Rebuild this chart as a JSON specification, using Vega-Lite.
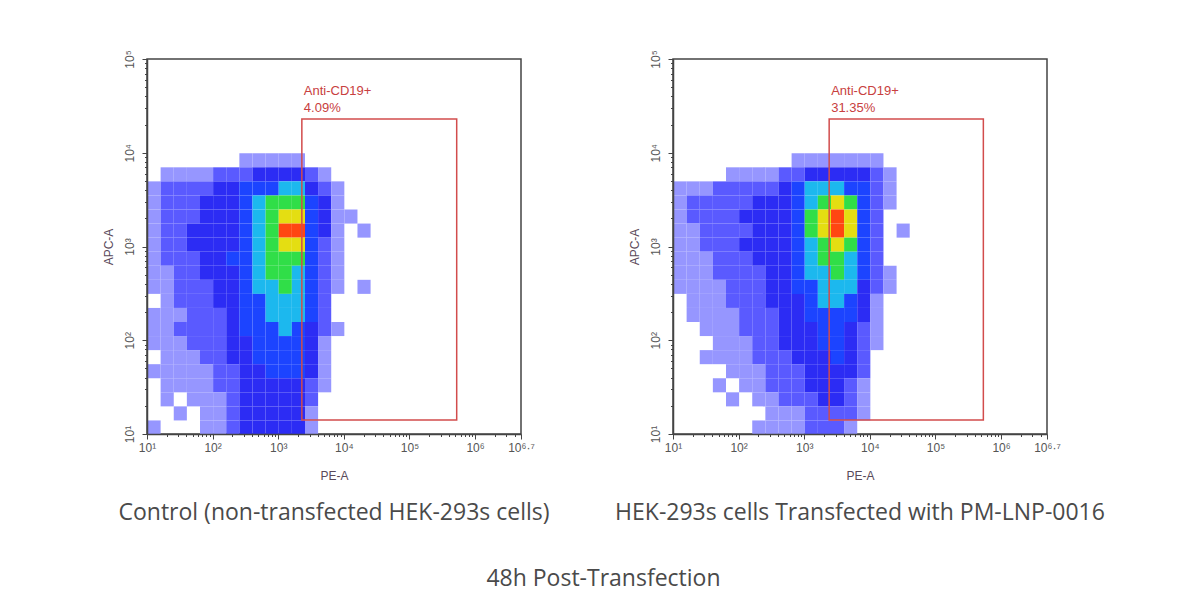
{
  "$schema": "https://vega.github.io/schema/vega-lite/v6.json",
  "background": "white",
  "padding": {"left": 101, "top": 49, "right": 10, "bottom": 10},
  "datasets": {
    "control": [
      {"pe":2.4,"apc":3.85,"n":1},{"pe":2.6,"apc":3.85,"n":1},{"pe":2.8,"apc":3.85,"n":1},{"pe":3,"apc":3.85,"n":1},{"pe":3.2,"apc":3.85,"n":1},
      {"pe":1.2,"apc":3.7,"n":1},{"pe":1.4,"apc":3.7,"n":1},{"pe":1.6,"apc":3.7,"n":1},{"pe":1.8,"apc":3.7,"n":1},{"pe":2,"apc":3.7,"n":2},{"pe":2.2,"apc":3.7,"n":2},{"pe":2.4,"apc":3.7,"n":2},{"pe":2.6,"apc":3.7,"n":3},{"pe":2.8,"apc":3.7,"n":3},{"pe":3,"apc":3.7,"n":3},{"pe":3.2,"apc":3.7,"n":3},{"pe":3.4,"apc":3.7,"n":2},{"pe":3.6,"apc":3.7,"n":1},
      {"pe":1,"apc":3.55,"n":1},{"pe":1.2,"apc":3.55,"n":2},{"pe":1.4,"apc":3.55,"n":2},{"pe":1.6,"apc":3.55,"n":2},{"pe":1.8,"apc":3.55,"n":2},{"pe":2,"apc":3.55,"n":3},{"pe":2.2,"apc":3.55,"n":3},{"pe":2.4,"apc":3.55,"n":4},{"pe":2.6,"apc":3.55,"n":4},{"pe":2.8,"apc":3.55,"n":4},{"pe":3,"apc":3.55,"n":5},{"pe":3.2,"apc":3.55,"n":5},{"pe":3.4,"apc":3.55,"n":3},{"pe":3.6,"apc":3.55,"n":2},{"pe":3.8,"apc":3.55,"n":1},
      {"pe":1,"apc":3.4,"n":1},{"pe":1.2,"apc":3.4,"n":2},{"pe":1.4,"apc":3.4,"n":2},{"pe":1.6,"apc":3.4,"n":2},{"pe":1.8,"apc":3.4,"n":3},{"pe":2,"apc":3.4,"n":3},{"pe":2.2,"apc":3.4,"n":3},{"pe":2.4,"apc":3.4,"n":4},{"pe":2.6,"apc":3.4,"n":5},{"pe":2.8,"apc":3.4,"n":6},{"pe":3,"apc":3.4,"n":6},{"pe":3.2,"apc":3.4,"n":6},{"pe":3.4,"apc":3.4,"n":4},{"pe":3.6,"apc":3.4,"n":3},{"pe":3.8,"apc":3.4,"n":1},
      {"pe":1,"apc":3.25,"n":1},{"pe":1.2,"apc":3.25,"n":2},{"pe":1.4,"apc":3.25,"n":2},{"pe":1.6,"apc":3.25,"n":2},{"pe":1.8,"apc":3.25,"n":3},{"pe":2,"apc":3.25,"n":3},{"pe":2.2,"apc":3.25,"n":3},{"pe":2.4,"apc":3.25,"n":4},{"pe":2.6,"apc":3.25,"n":5},{"pe":2.8,"apc":3.25,"n":6},{"pe":3,"apc":3.25,"n":7},{"pe":3.2,"apc":3.25,"n":7},{"pe":3.4,"apc":3.25,"n":4},{"pe":3.6,"apc":3.25,"n":3},{"pe":3.8,"apc":3.25,"n":1},{"pe":4,"apc":3.25,"n":1},
      {"pe":1,"apc":3.1,"n":1},{"pe":1.2,"apc":3.1,"n":2},{"pe":1.4,"apc":3.1,"n":2},{"pe":1.6,"apc":3.1,"n":3},{"pe":1.8,"apc":3.1,"n":3},{"pe":2,"apc":3.1,"n":3},{"pe":2.2,"apc":3.1,"n":3},{"pe":2.4,"apc":3.1,"n":4},{"pe":2.6,"apc":3.1,"n":5},{"pe":2.8,"apc":3.1,"n":6},{"pe":3,"apc":3.1,"n":8},{"pe":3.2,"apc":3.1,"n":8},{"pe":3.4,"apc":3.1,"n":4},{"pe":3.6,"apc":3.1,"n":3},{"pe":3.8,"apc":3.1,"n":1},{"pe":4.2,"apc":3.1,"n":1},
      {"pe":1,"apc":2.95,"n":1},{"pe":1.2,"apc":2.95,"n":2},{"pe":1.4,"apc":2.95,"n":2},{"pe":1.6,"apc":2.95,"n":3},{"pe":1.8,"apc":2.95,"n":3},{"pe":2,"apc":2.95,"n":3},{"pe":2.2,"apc":2.95,"n":3},{"pe":2.4,"apc":2.95,"n":4},{"pe":2.6,"apc":2.95,"n":5},{"pe":2.8,"apc":2.95,"n":6},{"pe":3,"apc":2.95,"n":7},{"pe":3.2,"apc":2.95,"n":7},{"pe":3.4,"apc":2.95,"n":4},{"pe":3.6,"apc":2.95,"n":2},{"pe":3.8,"apc":2.95,"n":1},
      {"pe":1,"apc":2.8,"n":1},{"pe":1.2,"apc":2.8,"n":2},{"pe":1.4,"apc":2.8,"n":2},{"pe":1.6,"apc":2.8,"n":2},{"pe":1.8,"apc":2.8,"n":3},{"pe":2,"apc":2.8,"n":3},{"pe":2.2,"apc":2.8,"n":4},{"pe":2.4,"apc":2.8,"n":4},{"pe":2.6,"apc":2.8,"n":5},{"pe":2.8,"apc":2.8,"n":6},{"pe":3,"apc":2.8,"n":6},{"pe":3.2,"apc":2.8,"n":6},{"pe":3.4,"apc":2.8,"n":4},{"pe":3.6,"apc":2.8,"n":2},{"pe":3.8,"apc":2.8,"n":1},
      {"pe":1,"apc":2.65,"n":1},{"pe":1.2,"apc":2.65,"n":1},{"pe":1.4,"apc":2.65,"n":2},{"pe":1.6,"apc":2.65,"n":2},{"pe":1.8,"apc":2.65,"n":3},{"pe":2,"apc":2.65,"n":3},{"pe":2.2,"apc":2.65,"n":3},{"pe":2.4,"apc":2.65,"n":4},{"pe":2.6,"apc":2.65,"n":5},{"pe":2.8,"apc":2.65,"n":6},{"pe":3,"apc":2.65,"n":6},{"pe":3.2,"apc":2.65,"n":5},{"pe":3.4,"apc":2.65,"n":4},{"pe":3.6,"apc":2.65,"n":2},{"pe":3.8,"apc":2.65,"n":1},
      {"pe":1,"apc":2.5,"n":1},{"pe":1.2,"apc":2.5,"n":1},{"pe":1.4,"apc":2.5,"n":2},{"pe":1.6,"apc":2.5,"n":2},{"pe":1.8,"apc":2.5,"n":2},{"pe":2,"apc":2.5,"n":3},{"pe":2.2,"apc":2.5,"n":3},{"pe":2.4,"apc":2.5,"n":4},{"pe":2.6,"apc":2.5,"n":5},{"pe":2.8,"apc":2.5,"n":5},{"pe":3,"apc":2.5,"n":6},{"pe":3.2,"apc":2.5,"n":5},{"pe":3.4,"apc":2.5,"n":4},{"pe":3.6,"apc":2.5,"n":2},{"pe":3.8,"apc":2.5,"n":1},{"pe":4.2,"apc":2.5,"n":1},
      {"pe":1.2,"apc":2.35,"n":1},{"pe":1.4,"apc":2.35,"n":2},{"pe":1.6,"apc":2.35,"n":2},{"pe":1.8,"apc":2.35,"n":2},{"pe":2,"apc":2.35,"n":3},{"pe":2.2,"apc":2.35,"n":3},{"pe":2.4,"apc":2.35,"n":4},{"pe":2.6,"apc":2.35,"n":4},{"pe":2.8,"apc":2.35,"n":5},{"pe":3,"apc":2.35,"n":5},{"pe":3.2,"apc":2.35,"n":5},{"pe":3.4,"apc":2.35,"n":4},{"pe":3.6,"apc":2.35,"n":2},
      {"pe":1,"apc":2.2,"n":1},{"pe":1.2,"apc":2.2,"n":1},{"pe":1.4,"apc":2.2,"n":1},{"pe":1.6,"apc":2.2,"n":2},{"pe":1.8,"apc":2.2,"n":2},{"pe":2,"apc":2.2,"n":2},{"pe":2.2,"apc":2.2,"n":3},{"pe":2.4,"apc":2.2,"n":4},{"pe":2.6,"apc":2.2,"n":4},{"pe":2.8,"apc":2.2,"n":5},{"pe":3,"apc":2.2,"n":5},{"pe":3.2,"apc":2.2,"n":5},{"pe":3.4,"apc":2.2,"n":4},{"pe":3.6,"apc":2.2,"n":2},
      {"pe":1,"apc":2.05,"n":1},{"pe":1.2,"apc":2.05,"n":1},{"pe":1.4,"apc":2.05,"n":2},{"pe":1.6,"apc":2.05,"n":2},{"pe":1.8,"apc":2.05,"n":2},{"pe":2,"apc":2.05,"n":2},{"pe":2.2,"apc":2.05,"n":3},{"pe":2.4,"apc":2.05,"n":4},{"pe":2.6,"apc":2.05,"n":4},{"pe":2.8,"apc":2.05,"n":4},{"pe":3,"apc":2.05,"n":5},{"pe":3.2,"apc":2.05,"n":4},{"pe":3.4,"apc":2.05,"n":3},{"pe":3.6,"apc":2.05,"n":2},{"pe":3.8,"apc":2.05,"n":1},
      {"pe":1,"apc":1.9,"n":1},{"pe":1.2,"apc":1.9,"n":1},{"pe":1.4,"apc":1.9,"n":1},{"pe":1.6,"apc":1.9,"n":2},{"pe":1.8,"apc":1.9,"n":2},{"pe":2,"apc":1.9,"n":2},{"pe":2.2,"apc":1.9,"n":3},{"pe":2.4,"apc":1.9,"n":3},{"pe":2.6,"apc":1.9,"n":4},{"pe":2.8,"apc":1.9,"n":4},{"pe":3,"apc":1.9,"n":4},{"pe":3.2,"apc":1.9,"n":4},{"pe":3.4,"apc":1.9,"n":3},{"pe":3.6,"apc":1.9,"n":1},
      {"pe":1.2,"apc":1.75,"n":1},{"pe":1.4,"apc":1.75,"n":1},{"pe":1.6,"apc":1.75,"n":1},{"pe":1.8,"apc":1.75,"n":2},{"pe":2,"apc":1.75,"n":2},{"pe":2.2,"apc":1.75,"n":3},{"pe":2.4,"apc":1.75,"n":3},{"pe":2.6,"apc":1.75,"n":4},{"pe":2.8,"apc":1.75,"n":4},{"pe":3,"apc":1.75,"n":4},{"pe":3.2,"apc":1.75,"n":4},{"pe":3.4,"apc":1.75,"n":3},{"pe":3.6,"apc":1.75,"n":1},
      {"pe":1,"apc":1.6,"n":1},{"pe":1.2,"apc":1.6,"n":1},{"pe":1.4,"apc":1.6,"n":1},{"pe":1.6,"apc":1.6,"n":1},{"pe":1.8,"apc":1.6,"n":1},{"pe":2,"apc":1.6,"n":2},{"pe":2.2,"apc":1.6,"n":2},{"pe":2.4,"apc":1.6,"n":3},{"pe":2.6,"apc":1.6,"n":3},{"pe":2.8,"apc":1.6,"n":4},{"pe":3,"apc":1.6,"n":4},{"pe":3.2,"apc":1.6,"n":4},{"pe":3.4,"apc":1.6,"n":3},{"pe":3.6,"apc":1.6,"n":1},
      {"pe":1.2,"apc":1.45,"n":1},{"pe":1.4,"apc":1.45,"n":1},{"pe":1.6,"apc":1.45,"n":1},{"pe":1.8,"apc":1.45,"n":1},{"pe":2,"apc":1.45,"n":2},{"pe":2.2,"apc":1.45,"n":2},{"pe":2.4,"apc":1.45,"n":3},{"pe":2.6,"apc":1.45,"n":3},{"pe":2.8,"apc":1.45,"n":3},{"pe":3,"apc":1.45,"n":3},{"pe":3.2,"apc":1.45,"n":3},{"pe":3.4,"apc":1.45,"n":2},{"pe":3.6,"apc":1.45,"n":1},
      {"pe":1.2,"apc":1.3,"n":1},{"pe":1.6,"apc":1.3,"n":1},{"pe":1.8,"apc":1.3,"n":1},{"pe":2,"apc":1.3,"n":1},{"pe":2.2,"apc":1.3,"n":2},{"pe":2.4,"apc":1.3,"n":3},{"pe":2.6,"apc":1.3,"n":3},{"pe":2.8,"apc":1.3,"n":3},{"pe":3,"apc":1.3,"n":3},{"pe":3.2,"apc":1.3,"n":3},{"pe":3.4,"apc":1.3,"n":2},
      {"pe":1.4,"apc":1.15,"n":1},{"pe":1.8,"apc":1.15,"n":1},{"pe":2,"apc":1.15,"n":1},{"pe":2.2,"apc":1.15,"n":2},{"pe":2.4,"apc":1.15,"n":3},{"pe":2.6,"apc":1.15,"n":3},{"pe":2.8,"apc":1.15,"n":3},{"pe":3,"apc":1.15,"n":3},{"pe":3.2,"apc":1.15,"n":3},{"pe":3.4,"apc":1.15,"n":1},
      {"pe":1,"apc":1,"n":1},{"pe":1.8,"apc":1,"n":1},{"pe":2,"apc":1,"n":1},{"pe":2.2,"apc":1,"n":2},{"pe":2.4,"apc":1,"n":3},{"pe":2.6,"apc":1,"n":3},{"pe":2.8,"apc":1,"n":3},{"pe":3,"apc":1,"n":3},{"pe":3.2,"apc":1,"n":3},{"pe":3.4,"apc":1,"n":1}
    ],
    "transfected": [
      {"pe":2.8,"apc":3.85,"n":1},{"pe":3,"apc":3.85,"n":1},{"pe":3.2,"apc":3.85,"n":1},{"pe":3.4,"apc":3.85,"n":1},{"pe":3.6,"apc":3.85,"n":1},{"pe":3.8,"apc":3.85,"n":1},{"pe":4,"apc":3.85,"n":1},
      {"pe":1.8,"apc":3.7,"n":1},{"pe":2,"apc":3.7,"n":1},{"pe":2.2,"apc":3.7,"n":1},{"pe":2.4,"apc":3.7,"n":1},{"pe":2.6,"apc":3.7,"n":2},{"pe":2.8,"apc":3.7,"n":2},{"pe":3,"apc":3.7,"n":3},{"pe":3.2,"apc":3.7,"n":3},{"pe":3.4,"apc":3.7,"n":3},{"pe":3.6,"apc":3.7,"n":3},{"pe":3.8,"apc":3.7,"n":3},{"pe":4,"apc":3.7,"n":2},{"pe":4.2,"apc":3.7,"n":1},
      {"pe":1,"apc":3.55,"n":1},{"pe":1.2,"apc":3.55,"n":1},{"pe":1.4,"apc":3.55,"n":1},{"pe":1.6,"apc":3.55,"n":2},{"pe":1.8,"apc":3.55,"n":2},{"pe":2,"apc":3.55,"n":2},{"pe":2.2,"apc":3.55,"n":2},{"pe":2.4,"apc":3.55,"n":2},{"pe":2.6,"apc":3.55,"n":3},{"pe":2.8,"apc":3.55,"n":4},{"pe":3,"apc":3.55,"n":5},{"pe":3.2,"apc":3.55,"n":5},{"pe":3.4,"apc":3.55,"n":5},{"pe":3.6,"apc":3.55,"n":4},{"pe":3.8,"apc":3.55,"n":4},{"pe":4,"apc":3.55,"n":2},{"pe":4.2,"apc":3.55,"n":1},
      {"pe":1,"apc":3.4,"n":1},{"pe":1.2,"apc":3.4,"n":2},{"pe":1.4,"apc":3.4,"n":2},{"pe":1.6,"apc":3.4,"n":2},{"pe":1.8,"apc":3.4,"n":2},{"pe":2,"apc":3.4,"n":2},{"pe":2.2,"apc":3.4,"n":3},{"pe":2.4,"apc":3.4,"n":3},{"pe":2.6,"apc":3.4,"n":3},{"pe":2.8,"apc":3.4,"n":4},{"pe":3,"apc":3.4,"n":5},{"pe":3.2,"apc":3.4,"n":6},{"pe":3.4,"apc":3.4,"n":7},{"pe":3.6,"apc":3.4,"n":6},{"pe":3.8,"apc":3.4,"n":4},{"pe":4,"apc":3.4,"n":2},{"pe":4.2,"apc":3.4,"n":1},
      {"pe":1,"apc":3.25,"n":1},{"pe":1.2,"apc":3.25,"n":2},{"pe":1.4,"apc":3.25,"n":2},{"pe":1.6,"apc":3.25,"n":2},{"pe":1.8,"apc":3.25,"n":2},{"pe":2,"apc":3.25,"n":3},{"pe":2.2,"apc":3.25,"n":3},{"pe":2.4,"apc":3.25,"n":3},{"pe":2.6,"apc":3.25,"n":3},{"pe":2.8,"apc":3.25,"n":4},{"pe":3,"apc":3.25,"n":6},{"pe":3.2,"apc":3.25,"n":7},{"pe":3.4,"apc":3.25,"n":8},{"pe":3.6,"apc":3.25,"n":7},{"pe":3.8,"apc":3.25,"n":4},{"pe":4,"apc":3.25,"n":2},
      {"pe":1,"apc":3.1,"n":1},{"pe":1.2,"apc":3.1,"n":1},{"pe":1.4,"apc":3.1,"n":2},{"pe":1.6,"apc":3.1,"n":2},{"pe":1.8,"apc":3.1,"n":2},{"pe":2,"apc":3.1,"n":2},{"pe":2.2,"apc":3.1,"n":3},{"pe":2.4,"apc":3.1,"n":3},{"pe":2.6,"apc":3.1,"n":3},{"pe":2.8,"apc":3.1,"n":4},{"pe":3,"apc":3.1,"n":6},{"pe":3.2,"apc":3.1,"n":7},{"pe":3.4,"apc":3.1,"n":8},{"pe":3.6,"apc":3.1,"n":7},{"pe":3.8,"apc":3.1,"n":4},{"pe":4,"apc":3.1,"n":2},{"pe":4.4,"apc":3.1,"n":1},
      {"pe":1,"apc":2.95,"n":1},{"pe":1.2,"apc":2.95,"n":1},{"pe":1.4,"apc":2.95,"n":2},{"pe":1.6,"apc":2.95,"n":2},{"pe":1.8,"apc":2.95,"n":2},{"pe":2,"apc":2.95,"n":3},{"pe":2.2,"apc":2.95,"n":3},{"pe":2.4,"apc":2.95,"n":3},{"pe":2.6,"apc":2.95,"n":3},{"pe":2.8,"apc":2.95,"n":4},{"pe":3,"apc":2.95,"n":5},{"pe":3.2,"apc":2.95,"n":6},{"pe":3.4,"apc":2.95,"n":7},{"pe":3.6,"apc":2.95,"n":6},{"pe":3.8,"apc":2.95,"n":4},{"pe":4,"apc":2.95,"n":2},
      {"pe":1,"apc":2.8,"n":1},{"pe":1.2,"apc":2.8,"n":1},{"pe":1.4,"apc":2.8,"n":1},{"pe":1.6,"apc":2.8,"n":2},{"pe":1.8,"apc":2.8,"n":2},{"pe":2,"apc":2.8,"n":2},{"pe":2.2,"apc":2.8,"n":3},{"pe":2.4,"apc":2.8,"n":3},{"pe":2.6,"apc":2.8,"n":3},{"pe":2.8,"apc":2.8,"n":4},{"pe":3,"apc":2.8,"n":5},{"pe":3.2,"apc":2.8,"n":6},{"pe":3.4,"apc":2.8,"n":6},{"pe":3.6,"apc":2.8,"n":5},{"pe":3.8,"apc":2.8,"n":4},{"pe":4,"apc":2.8,"n":2},
      {"pe":1,"apc":2.65,"n":1},{"pe":1.2,"apc":2.65,"n":1},{"pe":1.4,"apc":2.65,"n":1},{"pe":1.6,"apc":2.65,"n":2},{"pe":1.8,"apc":2.65,"n":2},{"pe":2,"apc":2.65,"n":2},{"pe":2.2,"apc":2.65,"n":2},{"pe":2.4,"apc":2.65,"n":3},{"pe":2.6,"apc":2.65,"n":3},{"pe":2.8,"apc":2.65,"n":4},{"pe":3,"apc":2.65,"n":5},{"pe":3.2,"apc":2.65,"n":5},{"pe":3.4,"apc":2.65,"n":6},{"pe":3.6,"apc":2.65,"n":5},{"pe":3.8,"apc":2.65,"n":4},{"pe":4,"apc":2.65,"n":2},{"pe":4.2,"apc":2.65,"n":1},
      {"pe":1,"apc":2.5,"n":1},{"pe":1.2,"apc":2.5,"n":1},{"pe":1.4,"apc":2.5,"n":1},{"pe":1.6,"apc":2.5,"n":1},{"pe":1.8,"apc":2.5,"n":2},{"pe":2,"apc":2.5,"n":2},{"pe":2.2,"apc":2.5,"n":2},{"pe":2.4,"apc":2.5,"n":3},{"pe":2.6,"apc":2.5,"n":3},{"pe":2.8,"apc":2.5,"n":4},{"pe":3,"apc":2.5,"n":4},{"pe":3.2,"apc":2.5,"n":5},{"pe":3.4,"apc":2.5,"n":5},{"pe":3.6,"apc":2.5,"n":5},{"pe":3.8,"apc":2.5,"n":3},{"pe":4,"apc":2.5,"n":2},{"pe":4.2,"apc":2.5,"n":1},
      {"pe":1.2,"apc":2.35,"n":1},{"pe":1.4,"apc":2.35,"n":1},{"pe":1.6,"apc":2.35,"n":1},{"pe":1.8,"apc":2.35,"n":2},{"pe":2,"apc":2.35,"n":2},{"pe":2.2,"apc":2.35,"n":2},{"pe":2.4,"apc":2.35,"n":3},{"pe":2.6,"apc":2.35,"n":3},{"pe":2.8,"apc":2.35,"n":3},{"pe":3,"apc":2.35,"n":4},{"pe":3.2,"apc":2.35,"n":5},{"pe":3.4,"apc":2.35,"n":5},{"pe":3.6,"apc":2.35,"n":4},{"pe":3.8,"apc":2.35,"n":3},{"pe":4,"apc":2.35,"n":1},
      {"pe":1.2,"apc":2.2,"n":1},{"pe":1.4,"apc":2.2,"n":1},{"pe":1.6,"apc":2.2,"n":1},{"pe":1.8,"apc":2.2,"n":1},{"pe":2,"apc":2.2,"n":2},{"pe":2.2,"apc":2.2,"n":2},{"pe":2.4,"apc":2.2,"n":2},{"pe":2.6,"apc":2.2,"n":3},{"pe":2.8,"apc":2.2,"n":3},{"pe":3,"apc":2.2,"n":4},{"pe":3.2,"apc":2.2,"n":4},{"pe":3.4,"apc":2.2,"n":4},{"pe":3.6,"apc":2.2,"n":4},{"pe":3.8,"apc":2.2,"n":3},{"pe":4,"apc":2.2,"n":1},
      {"pe":1.4,"apc":2.05,"n":1},{"pe":1.6,"apc":2.05,"n":1},{"pe":1.8,"apc":2.05,"n":1},{"pe":2,"apc":2.05,"n":2},{"pe":2.2,"apc":2.05,"n":2},{"pe":2.4,"apc":2.05,"n":2},{"pe":2.6,"apc":2.05,"n":3},{"pe":2.8,"apc":2.05,"n":3},{"pe":3,"apc":2.05,"n":3},{"pe":3.2,"apc":2.05,"n":4},{"pe":3.4,"apc":2.05,"n":4},{"pe":3.6,"apc":2.05,"n":3},{"pe":3.8,"apc":2.05,"n":2},{"pe":4,"apc":2.05,"n":1},
      {"pe":1.6,"apc":1.9,"n":1},{"pe":1.8,"apc":1.9,"n":1},{"pe":2,"apc":1.9,"n":1},{"pe":2.2,"apc":1.9,"n":2},{"pe":2.4,"apc":1.9,"n":2},{"pe":2.6,"apc":1.9,"n":3},{"pe":2.8,"apc":1.9,"n":3},{"pe":3,"apc":1.9,"n":3},{"pe":3.2,"apc":1.9,"n":4},{"pe":3.4,"apc":1.9,"n":4},{"pe":3.6,"apc":1.9,"n":3},{"pe":3.8,"apc":1.9,"n":2},{"pe":4,"apc":1.9,"n":1},
      {"pe":1.4,"apc":1.75,"n":1},{"pe":1.6,"apc":1.75,"n":1},{"pe":1.8,"apc":1.75,"n":1},{"pe":2,"apc":1.75,"n":1},{"pe":2.2,"apc":1.75,"n":2},{"pe":2.4,"apc":1.75,"n":2},{"pe":2.6,"apc":1.75,"n":2},{"pe":2.8,"apc":1.75,"n":3},{"pe":3,"apc":1.75,"n":3},{"pe":3.2,"apc":1.75,"n":3},{"pe":3.4,"apc":1.75,"n":4},{"pe":3.6,"apc":1.75,"n":3},{"pe":3.8,"apc":1.75,"n":2},
      {"pe":1.8,"apc":1.6,"n":1},{"pe":2,"apc":1.6,"n":1},{"pe":2.2,"apc":1.6,"n":1},{"pe":2.4,"apc":1.6,"n":2},{"pe":2.6,"apc":1.6,"n":2},{"pe":2.8,"apc":1.6,"n":2},{"pe":3,"apc":1.6,"n":3},{"pe":3.2,"apc":1.6,"n":3},{"pe":3.4,"apc":1.6,"n":3},{"pe":3.6,"apc":1.6,"n":3},{"pe":3.8,"apc":1.6,"n":2},
      {"pe":1.6,"apc":1.45,"n":1},{"pe":2,"apc":1.45,"n":1},{"pe":2.2,"apc":1.45,"n":1},{"pe":2.4,"apc":1.45,"n":2},{"pe":2.6,"apc":1.45,"n":2},{"pe":2.8,"apc":1.45,"n":2},{"pe":3,"apc":1.45,"n":3},{"pe":3.2,"apc":1.45,"n":3},{"pe":3.4,"apc":1.45,"n":3},{"pe":3.6,"apc":1.45,"n":2},{"pe":3.8,"apc":1.45,"n":1},
      {"pe":1.8,"apc":1.3,"n":1},{"pe":2.2,"apc":1.3,"n":1},{"pe":2.4,"apc":1.3,"n":1},{"pe":2.6,"apc":1.3,"n":2},{"pe":2.8,"apc":1.3,"n":2},{"pe":3,"apc":1.3,"n":2},{"pe":3.2,"apc":1.3,"n":3},{"pe":3.4,"apc":1.3,"n":3},{"pe":3.6,"apc":1.3,"n":2},{"pe":3.8,"apc":1.3,"n":1},
      {"pe":2.4,"apc":1.15,"n":1},{"pe":2.6,"apc":1.15,"n":1},{"pe":2.8,"apc":1.15,"n":1},{"pe":3,"apc":1.15,"n":2},{"pe":3.2,"apc":1.15,"n":2},{"pe":3.4,"apc":1.15,"n":2},{"pe":3.6,"apc":1.15,"n":2},{"pe":3.8,"apc":1.15,"n":1},
      {"pe":2.2,"apc":1,"n":1},{"pe":2.4,"apc":1,"n":1},{"pe":2.6,"apc":1,"n":1},{"pe":2.8,"apc":1,"n":1},{"pe":3,"apc":1,"n":2},{"pe":3.2,"apc":1,"n":2},{"pe":3.4,"apc":1,"n":2},{"pe":3.6,"apc":1,"n":1}
    ],
    "gates": [
      {"panel":"control","pe_lo":3.36,"pe_hi":5.72,"apc_lo":1.15,"apc_hi":4.36,"label":"Anti-CD19+\n4.09%"},
      {"panel":"transfected","pe_lo":3.38,"pe_hi":5.73,"apc_lo":1.15,"apc_hi":4.36,"label":"Anti-CD19+\n31.35%"}
    ]
  },
  "hconcat": [
    {
      "width": 374,
      "height": 375,
      "title": {"text": "Control (non-transfected HEK-293s cells)", "orient": "bottom", "frame": "group", "offset": 21},
      "layer": [
        {
          "data": {"name": "control"},
          "mark": {"type": "rect", "binSpacing": 0},
          "encoding": {
            "x": {"field": "pe", "type": "quantitative", "bin": {"binned": true, "step": 0.2}, "title": "PE-A",
                  "scale": {"domain": [1, 6.7], "nice": false, "zero": false},
                  "axis": {
                    "values": [1, 1.301, 1.477, 1.602, 1.699, 1.778, 1.845, 1.903, 1.954,
                               2, 2.301, 2.477, 2.602, 2.699, 2.778, 2.845, 2.903, 2.954,
                               3, 3.301, 3.477, 3.602, 3.699, 3.778, 3.845, 3.903, 3.954,
                               4, 4.301, 4.477, 4.602, 4.699, 4.778, 4.845, 4.903, 4.954,
                               5, 5.301, 5.477, 5.602, 5.699, 5.778, 5.845, 5.903, 5.954,
                               6, 6.301, 6.477, 6.602, 6.7],
                    "tickCount": 200,
                    "labelExpr": "datum.value == 6.7 ? '10⁶·⁷' : (datum.value == floor(datum.value) ? '10' + ['⁰','¹','²','³','⁴','⁵','⁶'][datum.value] : '')",
                    "tickSize": {"condition": {"test": "datum.value == floor(datum.value) || datum.value == 6.7", "value": 5}, "value": 2.5},
                    "labelOverlap": false, "labelBound": false, "labelFlush": false
                  }},
            "y": {"field": "apc", "type": "quantitative", "bin": {"binned": true, "step": 0.15}, "title": "APC-A",
                  "scale": {"domain": [1, 5], "nice": false, "zero": false},
                  "axis": {
                    "values": [1, 1.301, 1.477, 1.602, 1.699, 1.778, 1.845, 1.903, 1.954,
                               2, 2.301, 2.477, 2.602, 2.699, 2.778, 2.845, 2.903, 2.954,
                               3, 3.301, 3.477, 3.602, 3.699, 3.778, 3.845, 3.903, 3.954,
                               4, 4.301, 4.477, 4.602, 4.699, 4.778, 4.845, 4.903, 4.954, 5],
                    "tickCount": 200,
                    "labelExpr": "datum.value == floor(datum.value) ? '10' + ['⁰','¹','²','³','⁴','⁵'][datum.value] : ''",
                    "tickSize": {"condition": {"test": "datum.value == floor(datum.value)", "value": 5}, "value": 2.5},
                    "labelAngle": -90,
                    "labelOverlap": false, "labelBound": false, "labelFlush": false
                  }},
            "color": {"field": "n", "type": "ordinal", "legend": null,
                      "scale": {"domain": [1, 2, 3, 4, 5, 6, 7, 8],
                                "range": ["#9696ff", "#5a5aff", "#2c2cf4", "#1c44ff", "#1cb8ee", "#30de48", "#e4de12", "#ff4612"]}}
          }
        },
        {
          "data": {"name": "gates"},
          "transform": [{"filter": "datum.panel == 'control'"}],
          "mark": {"type": "rect", "filled": false, "stroke": "#d24c4c", "strokeWidth": 1.5},
          "encoding": {
            "x": {"field": "pe_lo", "type": "quantitative", "title": "PE-A"},
            "x2": {"field": "pe_hi"},
            "y": {"field": "apc_lo", "type": "quantitative", "title": "APC-A"},
            "y2": {"field": "apc_hi"}
          }
        },
        {
          "data": {"name": "gates"},
          "transform": [{"filter": "datum.panel == 'control'"}],
          "mark": {"type": "text", "align": "left", "baseline": "top", "dx": 2, "dy": -34, "lineBreak": "\n", "lineHeight": 17,
                   "font": "Liberation Sans", "fontSize": 13, "color": "#c84040"},
          "encoding": {
            "x": {"field": "pe_lo", "type": "quantitative", "title": "PE-A"},
            "y": {"field": "apc_hi", "type": "quantitative", "title": "APC-A"},
            "text": {"field": "label"}
          }
        }
      ]
    },
    {
      "width": 374,
      "height": 375,
      "title": {"text": "HEK-293s cells Transfected with PM-LNP-0016", "orient": "bottom", "frame": "group", "offset": 21},
      "layer": [
        {
          "data": {"name": "transfected"},
          "mark": {"type": "rect", "binSpacing": 0},
          "encoding": {
            "x": {"field": "pe", "type": "quantitative", "bin": {"binned": true, "step": 0.2}, "title": "PE-A",
                  "scale": {"domain": [1, 6.7], "nice": false, "zero": false},
                  "axis": {
                    "values": [1, 1.301, 1.477, 1.602, 1.699, 1.778, 1.845, 1.903, 1.954,
                               2, 2.301, 2.477, 2.602, 2.699, 2.778, 2.845, 2.903, 2.954,
                               3, 3.301, 3.477, 3.602, 3.699, 3.778, 3.845, 3.903, 3.954,
                               4, 4.301, 4.477, 4.602, 4.699, 4.778, 4.845, 4.903, 4.954,
                               5, 5.301, 5.477, 5.602, 5.699, 5.778, 5.845, 5.903, 5.954,
                               6, 6.301, 6.477, 6.602, 6.7],
                    "tickCount": 200,
                    "labelExpr": "datum.value == 6.7 ? '10⁶·⁷' : (datum.value == floor(datum.value) ? '10' + ['⁰','¹','²','³','⁴','⁵','⁶'][datum.value] : '')",
                    "tickSize": {"condition": {"test": "datum.value == floor(datum.value) || datum.value == 6.7", "value": 5}, "value": 2.5},
                    "labelOverlap": false, "labelBound": false, "labelFlush": false
                  }},
            "y": {"field": "apc", "type": "quantitative", "bin": {"binned": true, "step": 0.15}, "title": "APC-A",
                  "scale": {"domain": [1, 5], "nice": false, "zero": false},
                  "axis": {
                    "values": [1, 1.301, 1.477, 1.602, 1.699, 1.778, 1.845, 1.903, 1.954,
                               2, 2.301, 2.477, 2.602, 2.699, 2.778, 2.845, 2.903, 2.954,
                               3, 3.301, 3.477, 3.602, 3.699, 3.778, 3.845, 3.903, 3.954,
                               4, 4.301, 4.477, 4.602, 4.699, 4.778, 4.845, 4.903, 4.954, 5],
                    "tickCount": 200,
                    "labelExpr": "datum.value == floor(datum.value) ? '10' + ['⁰','¹','²','³','⁴','⁵'][datum.value] : ''",
                    "tickSize": {"condition": {"test": "datum.value == floor(datum.value)", "value": 5}, "value": 2.5},
                    "labelAngle": -90,
                    "labelOverlap": false, "labelBound": false, "labelFlush": false
                  }},
            "color": {"field": "n", "type": "ordinal", "legend": null,
                      "scale": {"domain": [1, 2, 3, 4, 5, 6, 7, 8],
                                "range": ["#9696ff", "#5a5aff", "#2c2cf4", "#1c44ff", "#1cb8ee", "#30de48", "#e4de12", "#ff4612"]}}
          }
        },
        {
          "data": {"name": "gates"},
          "transform": [{"filter": "datum.panel == 'transfected'"}],
          "mark": {"type": "rect", "filled": false, "stroke": "#d24c4c", "strokeWidth": 1.5},
          "encoding": {
            "x": {"field": "pe_lo", "type": "quantitative", "title": "PE-A"},
            "x2": {"field": "pe_hi"},
            "y": {"field": "apc_lo", "type": "quantitative", "title": "APC-A"},
            "y2": {"field": "apc_hi"}
          }
        },
        {
          "data": {"name": "gates"},
          "transform": [{"filter": "datum.panel == 'transfected'"}],
          "mark": {"type": "text", "align": "left", "baseline": "top", "dx": 2, "dy": -34, "lineBreak": "\n", "lineHeight": 17,
                   "font": "Liberation Sans", "fontSize": 13, "color": "#c84040"},
          "encoding": {
            "x": {"field": "pe_lo", "type": "quantitative", "title": "PE-A"},
            "y": {"field": "apc_hi", "type": "quantitative", "title": "APC-A"},
            "text": {"field": "label"}
          }
        }
      ]
    }
  ],
  "spacing": 152,
  "bounds": "flush",
  "title": {"text": "48h Post-Transfection", "orient": "bottom", "anchor": "middle", "offset": 42},
  "config": {
    "view": {"stroke": "#444", "strokeWidth": 1.5},
    "title": {"font": "Open Sans", "fontSize": 23, "fontWeight": "normal", "color": "#4a4a4a"},
    "axis": {
      "grid": false,
      "labelFont": "Liberation Sans",
      "labelFontSize": 12,
      "labelColor": "#555",
      "titleFont": "Liberation Sans",
      "titleFontSize": 12,
      "titleFontWeight": "normal",
      "titleColor": "#5a4a5a",
      "domainColor": "#444",
      "domainWidth": 1.5,
      "tickColor": "#444"
    },
    "axisX": {"labelPadding": 3, "titlePadding": 17},
    "axisY": {"labelPadding": 6, "titlePadding": 8}
  }
}
